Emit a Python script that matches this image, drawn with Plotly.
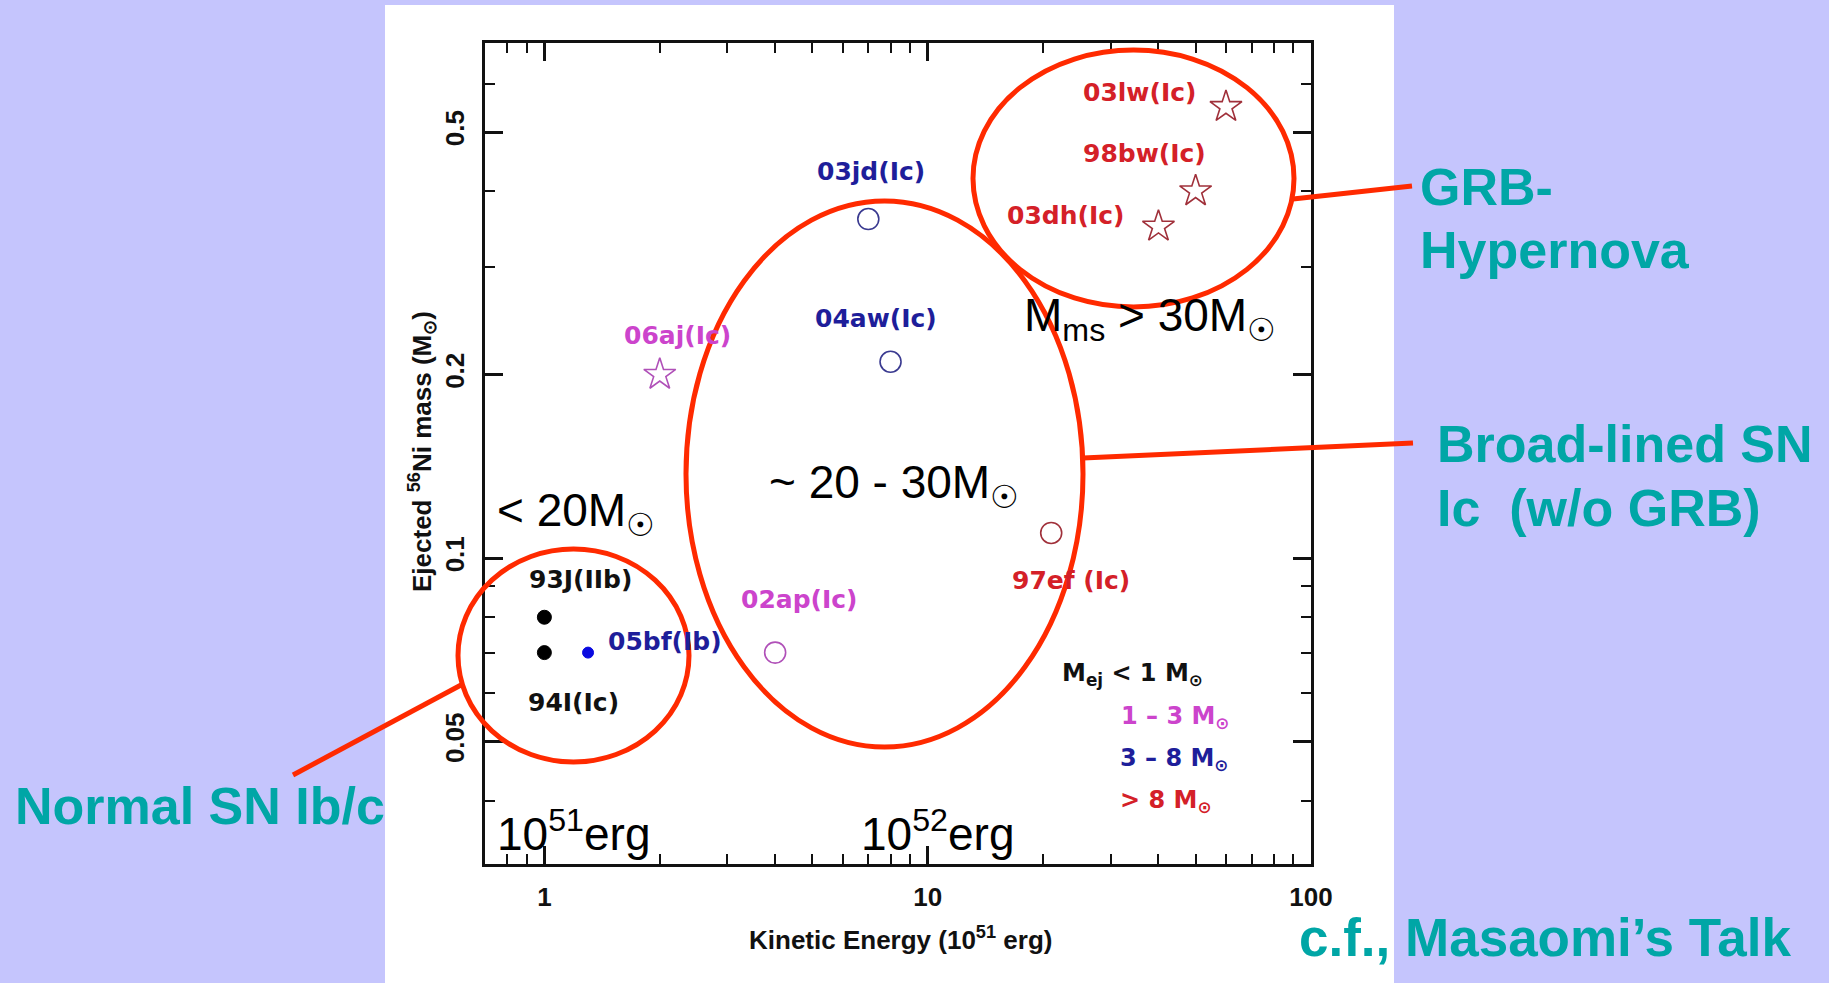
import numpy as np
import plotly.graph_objects as go

# ---------------- data ----------------
sn_names = ["03lw", "98bw", "03dh", "03jd", "04aw", "06aj", "97ef", "02ap", "93J", "94I", "05bf"]
sn_labels = ["03lw(Ic)", "98bw(Ic)", "03dh(Ic)", "03jd(Ic)", "04aw(Ic)", "06aj(Ic)",
             "97ef (Ic)", "02ap(Ic)", "93J(IIb)", "94I(Ic)", "05bf(Ib)"]
kinetic_energy = [60, 50, 40, 7, 8, 2, 21, 4, 1, 1, 1.3]          # 1e51 erg
ni_mass = [0.55, 0.40, 0.35, 0.36, 0.21, 0.20, 0.11, 0.07, 0.08, 0.07, 0.07]  # Msun
ejecta_class = [">8", ">8", ">8", "3-8", "3-8", "1-3", ">8", "1-3", "<1", "<1", "3-8"]
marker_kind = ["star", "star", "star", "circle", "circle", "star", "circle", "circle", "dot", "dot", "dot"]

x_tick_vals = [1, 10, 100]
x_tick_text = ["1", "10", "100"]
y_tick_vals = [0.05, 0.1, 0.2, 0.5]
y_tick_text = ["0.05", "0.1", "0.2", "0.5"]
x_range = [0.7, 100]
y_range = [0.0315, 0.7]

legend_rows = ["M<sub>ej</sub> < 1 M<sub>⊙</sub>", "1 – 3 M<sub>⊙</sub>", "3 – 8 M<sub>⊙</sub>", "> 8 M<sub>⊙</sub>"]
legend_classes = ["<1", "1-3", "3-8", ">8"]

# ---------------- styles ----------------
W, H = 1829, 983
L, R, T, B = 485, 1311, 43, 864
LAVENDER = "#C5C5FD"
TEAL = "#00A6A6"
RED = "#FF2A00"
text_color = {"<1": "#111111", "1-3": "#CC44CC", "3-8": "#1E1E9A", ">8": "#D42028"}
mark_color = {"<1": "#000000", "1-3": "#B050B8", "3-8": "#3A3A90", ">8": "#A0303A"}
dot_color = {"<1": "#000000", "3-8": "#0A0AE0"}
dot_size = {"<1": 14, "3-8": 11}
symbol_map = {"star": "star-open", "circle": "circle-open", "dot": "circle"}
size_map = {"star": 24, "circle": 21}
label_offset = {  # pixel offsets of labels from their point (dx right, dy up)
    "03lw": (-86, 14), "98bw": (-51, 38), "03dh": (-93, 11), "03jd": (3, 48),
    "04aw": (-15, 43), "06aj": (18, 39), "97ef": (20, -48), "02ap": (24, 53),
    "93J": (36, 38), "94I": (29, -50), "05bf": (77, 11),
}
LABEL_FONT = "DejaVu Sans"
ARIAL = "Arial, Liberation Sans"


def px(x):
    return (x - L) / (R - L)


def py(y):
    return (B - y) / (B - T)


fig = go.Figure()

# markers
for kind in ["star", "circle", "dot"]:
    idx = [i for i, k in enumerate(marker_kind) if k == kind]
    if kind == "dot":
        cols = [dot_color[ejecta_class[i]] for i in idx]
        sizes = [dot_size[ejecta_class[i]] for i in idx]
        lw = 1
    else:
        cols = [mark_color[ejecta_class[i]] for i in idx]
        sizes = size_map[kind]
        lw = 1.6
    fig.add_trace(go.Scatter(
        x=[kinetic_energy[i] for i in idx], y=[ni_mass[i] for i in idx],
        mode="markers", showlegend=False, hoverinfo="skip", opacity=1,
        marker=dict(symbol=symbol_map[kind], size=sizes, color=cols, opacity=1,
                    line=dict(width=lw, color=cols)),
    ))

annotations = []
# point labels
for i, name in enumerate(sn_names):
    dx, dy = label_offset[name]
    annotations.append(dict(
        x=np.log10(kinetic_energy[i]), y=np.log10(ni_mass[i]), xref="x", yref="y",
        text=sn_labels[i], showarrow=False, xshift=dx, yshift=dy,
        xanchor="center", yanchor="middle",
        font=dict(family=LABEL_FONT, size=25, color=text_color[ejecta_class[i]], weight="bold"),
    ))


def add_text(text, x_left, baseline, size, color, family=ARIAL, weight="normal", anchor="left"):
    annotations.append(dict(
        x=px(x_left), y=py(baseline - 0.35 * size), xref="paper", yref="paper",
        text=text, showarrow=False, xanchor=anchor, yanchor="middle",
        borderpad=0, borderwidth=0,
        font=dict(family=family, size=size, color=color, weight=weight),
    ))


# legend in plot
legend_pos = [(1062, 683), (1121, 726), (1120, 768), (1120, 810)]
for txt, cls, (lx, lb) in zip(legend_rows, legend_classes, legend_pos):
    add_text(txt, lx, lb, 24, text_color[cls], family=LABEL_FONT, weight="bold")

# black overlay texts
add_text("M<sub>ms</sub> > 30M<sub>☉</sub>", 1024, 335, 46, "#000000")
add_text("~ 20 - 30M<sub>☉</sub>", 769, 502, 46, "#000000")
add_text("< 20M<sub>☉</sub>", 497, 530, 46, "#000000")
add_text("10<sup>51</sup>erg", 497, 847, 46, "#000000")
add_text("10<sup>52</sup>erg", 861, 847, 46, "#000000")

# teal slide texts
add_text("GRB-", 1420, 205, 52, TEAL, weight="bold")
add_text("Hypernova", 1420, 268, 52, TEAL, weight="bold")
add_text("Broad-lined SN", 1437, 462, 52, TEAL, weight="bold")
add_text("Ic  (w/o GRB)", 1437, 526, 52, TEAL, weight="bold")
add_text("Normal SN Ib/c", 15, 824, 52, TEAL, weight="bold")
add_text("c.f., Masaomi’s Talk", 1299, 956, 53, TEAL, weight="bold")

# axis titles
annotations.append(dict(
    x=px(900), y=py(938), xref="paper", yref="paper", showarrow=False,
    text="Kinetic Energy (10<sup>51</sup> erg)", xanchor="center", yanchor="middle",
    font=dict(family=ARIAL, size=26, color="#111111", weight="bold"),
))
annotations.append(dict(
    x=px(422), y=py(452), xref="paper", yref="paper", showarrow=False, textangle=-90,
    text="Ejected <sup>56</sup>Ni mass (M<sub>⊙</sub>)", xanchor="center", yanchor="middle",
    font=dict(family=ARIAL, size=26, color="#111111", weight="bold"),
))

shapes = [
    # white slide panel
    dict(type="rect", xref="paper", yref="paper", x0=px(385), x1=px(1394), y0=py(5), y1=py(H + 5),
         fillcolor="white", line=dict(width=0), layer="below"),
    # ellipses
    dict(type="circle", xref="paper", yref="paper", x0=px(973), x1=px(1294), y0=py(50), y1=py(307),
         line=dict(color=RED, width=5)),
    dict(type="circle", xref="paper", yref="paper", x0=px(686), x1=px(1083), y0=py(201), y1=py(747),
         line=dict(color=RED, width=5)),
    dict(type="circle", xref="paper", yref="paper", x0=px(458), x1=px(689), y0=py(549), y1=py(762),
         line=dict(color=RED, width=5)),
    # connector lines
    dict(type="line", xref="paper", yref="paper", x0=px(1293), y0=py(199), x1=px(1412), y1=py(186),
         line=dict(color=RED, width=5)),
    dict(type="line", xref="paper", yref="paper", x0=px(1083), y0=py(458), x1=px(1413), y1=py(443),
         line=dict(color=RED, width=5)),
    dict(type="line", xref="paper", yref="paper", x0=px(293), y0=py(775), x1=px(461), y1=py(685),
         line=dict(color=RED, width=5)),
]

axis_common = dict(
    type="log", showgrid=False, zeroline=False, showline=True, linecolor="#111111", linewidth=3,
    mirror="allticks", ticks="inside", ticklen=18, tickwidth=2.5, tickcolor="#111111",
    tickfont=dict(family=ARIAL, size=26, color="#111111", weight="bold"),
    minor=dict(dtick="D1", ticks="inside", ticklen=10, tickwidth=2, tickcolor="#111111", showgrid=False),
)

fig.update_layout(
    width=W, height=H, autosize=False,
    margin=dict(l=L, r=W - R, t=T, b=H - B, pad=0),
    paper_bgcolor=LAVENDER, plot_bgcolor="rgba(0,0,0,0)",
    xaxis=dict(axis_common, range=[np.log10(x_range[0]), np.log10(x_range[1])],
               tickmode="array", tickvals=x_tick_vals, ticktext=x_tick_text, ticklabelstandoff=8),
    yaxis=dict(axis_common, range=[np.log10(y_range[0]), np.log10(y_range[1])],
               tickmode="array", tickvals=y_tick_vals, ticktext=y_tick_text, tickangle=-90,
               ticklabelstandoff=8),
    shapes=shapes, annotations=annotations, showlegend=False,
)

fig.write_html("out.html")
